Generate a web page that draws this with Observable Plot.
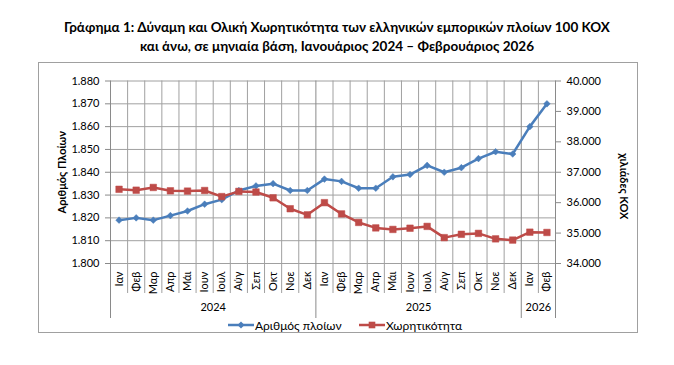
<!DOCTYPE html>
<html><head><meta charset="utf-8">
<script src="https://cdn.jsdelivr.net/npm/d3@7"></script>
<script src="https://cdn.jsdelivr.net/npm/@observablehq/plot@0.6"></script>
<style>
body{margin:0;background:#fff;font-family:Lato, "Open Sans", sans-serif;color:#000;}
#wrap{position:relative;width:674px;height:365px;overflow:hidden;}
#title{height:60px;box-sizing:border-box;padding-top:18px;text-align:center;font-weight:bold;font-size:13.5px;line-height:19px;}
#border{position:absolute;left:38px;top:62px;width:600px;height:271px;border:1px solid #a0a0a0;box-sizing:border-box;pointer-events:none;}
#chart svg{display:block;overflow:visible;}
.leg{position:absolute;top:318px;height:14px;display:flex;align-items:center;font-size:12px;white-space:nowrap;}
.leg svg{display:block;margin-right:1px;}
</style></head>
<body>
<div id="wrap">
  <div id="title">Γράφημα 1: Δύναμη και Ολική Χωρητικότητα των ελληνικών εμπορικών πλοίων 100 ΚΟΧ<br>και άνω, σε μηνιαία βάση, Ιανουάριος 2024 – Φεβρουάριος 2026</div>
  <div id="chart"></div>
  <div id="border"></div>
  <div class="leg" id="leg1" style="left:228px"></div>
  <div class="leg" id="leg2" style="left:359px"></div>
</div>
<script>
const months = ["Ιαν","Φεβ","Μαρ","Απρ","Μάι","Ιουν","Ιουλ","Αύγ","Σεπ","Οκτ","Νοε","Δεκ",
                "Ιαν","Φεβ","Μαρ","Απρ","Μάι","Ιουν","Ιουλ","Αύγ","Σεπ","Οκτ","Νοε","Δεκ",
                "Ιαν","Φεβ"];
const years = ["2024","2025","2026"];
const yearMonths = [12, 12, 2];
const ships = [1819,1820,1819,1821,1823,1826,1828,1832,1834,1835,1832,1832,
               1837,1836,1833,1833,1838,1839,1843,1840,1842,1846,1849,1848,
               1860,1870];
const tonnage = [36440,36410,36500,36390,36380,36400,36200,36370,36350,36160,35800,35600,
                 36000,35630,35350,35170,35120,35160,35220,34850,34960,34990,34810,34770,
                 35030,35020];
const leftTicks = [1800,1810,1820,1830,1840,1850,1860,1870,1880];
const rightTicks = [34000,35000,36000,37000,38000,39000,40000];
const seriesNames = ["Αριθμός πλοίων","Χωρητικότητα"];
const colors = ["#4A7EBB","#BE4B48"];

const fmt = d => d3.format(",")(d).replace(/,/g, ".");
const L0 = 1800, L1 = 1880, R0 = 34000, R1 = 40000;
const toLeft = v => L0 + (v - R0) / (R1 - R0) * (L1 - L0);
const toRight = v => R0 + (v - L0) / (L1 - L0) * (R1 - R0);

const idx = months.map((m, i) => i);
const bounds = d3.range(-0.5, months.length, 1);
let acc = 0;
const yearStarts = yearMonths.map(n => { const s = acc; acc += n; return s; });
const yearBounds = [-0.5, ...yearStarts.slice(1).map(s => s - 0.5), months.length - 0.5];
const monthBounds = bounds.filter(b => !yearBounds.includes(b));
const yearCenters = yearStarts.map((s, i) => s + (yearMonths[i] - 1) / 2);

const grid = "#a0a0a0", axisC = "#8a8a8a";

const plot = Plot.plot({
  width: 674, height: 260,
  marginLeft: 110, marginRight: 119, marginTop: 20.5, marginBottom: 57,
  x: {type: "linear", domain: [-0.5, months.length - 0.5], axis: null},
  y: {domain: [L0, L1], axis: null},
  style: {fontFamily: "Lato, 'Open Sans', sans-serif", fontSize: "11px", color: "#000", background: "#fff", overflow: "visible"},
  marks: [
    Plot.ruleY(leftTicks, {stroke: grid}),
    Plot.ruleX(monthBounds, {stroke: grid, insetBottom: -30}),
    Plot.ruleX(yearBounds, {stroke: axisC, insetBottom: -55}),
    Plot.axisY({anchor: "left", ticks: leftTicks, tickSize: 5, tickPadding: 6, tickFormat: fmt, label: null, stroke: axisC, fill: "#000"}),
    Plot.axisY({anchor: "right", ticks: rightTicks.map(toLeft), tickSize: 5, tickPadding: 6, tickFormat: d => fmt(Math.round(toRight(d))), label: null, stroke: axisC, fill: "#000"}),
    Plot.ruleX([months.length - 0.5], {y1: L0, y2: L1, stroke: axisC}),
    Plot.text(idx, {x: i => i, text: i => months[i], frameAnchor: "bottom", dy: 8, rotate: -90, textAnchor: "end", lineAnchor: "middle", fill: "#000"}),
    Plot.text(years, {x: (d, i) => yearCenters[i], text: d => d, frameAnchor: "bottom", dy: 47, fill: "#000"}),
    Plot.text(["Αριθμός Πλοίων"], {frameAnchor: "left", dx: -48, rotate: -90, textAnchor: "middle", lineAnchor: "middle", fontWeight: "bold", fill: "#000"}),
    Plot.text(["χιλιάδες ΚΟΧ"], {frameAnchor: "right", dx: 68, dy: 14, rotate: 90, textAnchor: "middle", lineAnchor: "middle", fontWeight: "bold", fill: "#000"}),
    Plot.line(ships, {x: (d, i) => i, y: d => d, stroke: colors[0], strokeWidth: 2.5}),
    Plot.dot(ships, {x: (d, i) => i, y: d => d, symbol: "diamond2", r: 3, fill: colors[0], stroke: colors[0], strokeWidth: 0.5}),
    Plot.line(tonnage, {x: (d, i) => i, y: d => toLeft(d), stroke: colors[1], strokeWidth: 2.5}),
    Plot.dot(tonnage, {x: (d, i) => i, y: d => toLeft(d), symbol: "square", r: 3.7, fill: colors[1], stroke: colors[1], strokeWidth: 0.5})
  ]
});
document.getElementById("chart").appendChild(plot);

function swatch(color, shape) {
  const w = 26, h = 10;
  const marker = shape === "diamond"
    ? `<path d="M${w/2} ${h/2-3.5}L${w/2+3.5} ${h/2}L${w/2} ${h/2+3.5}L${w/2-3.5} ${h/2}Z" fill="${color}"/>`
    : `<rect x="${w/2-3.3}" y="${h/2-3.3}" width="6.6" height="6.6" fill="${color}"/>`;
  return `<svg width="${w}" height="${h}"><line x1="0" x2="${w}" y1="${h/2}" y2="${h/2}" stroke="${color}" stroke-width="2.5"/>${marker}</svg>`;
}
document.getElementById("leg1").innerHTML = swatch(colors[0], "diamond") + `<span>${seriesNames[0]}</span>`;
document.getElementById("leg2").innerHTML = swatch(colors[1], "square") + `<span>${seriesNames[1]}</span>`;
</script>
</body></html>
